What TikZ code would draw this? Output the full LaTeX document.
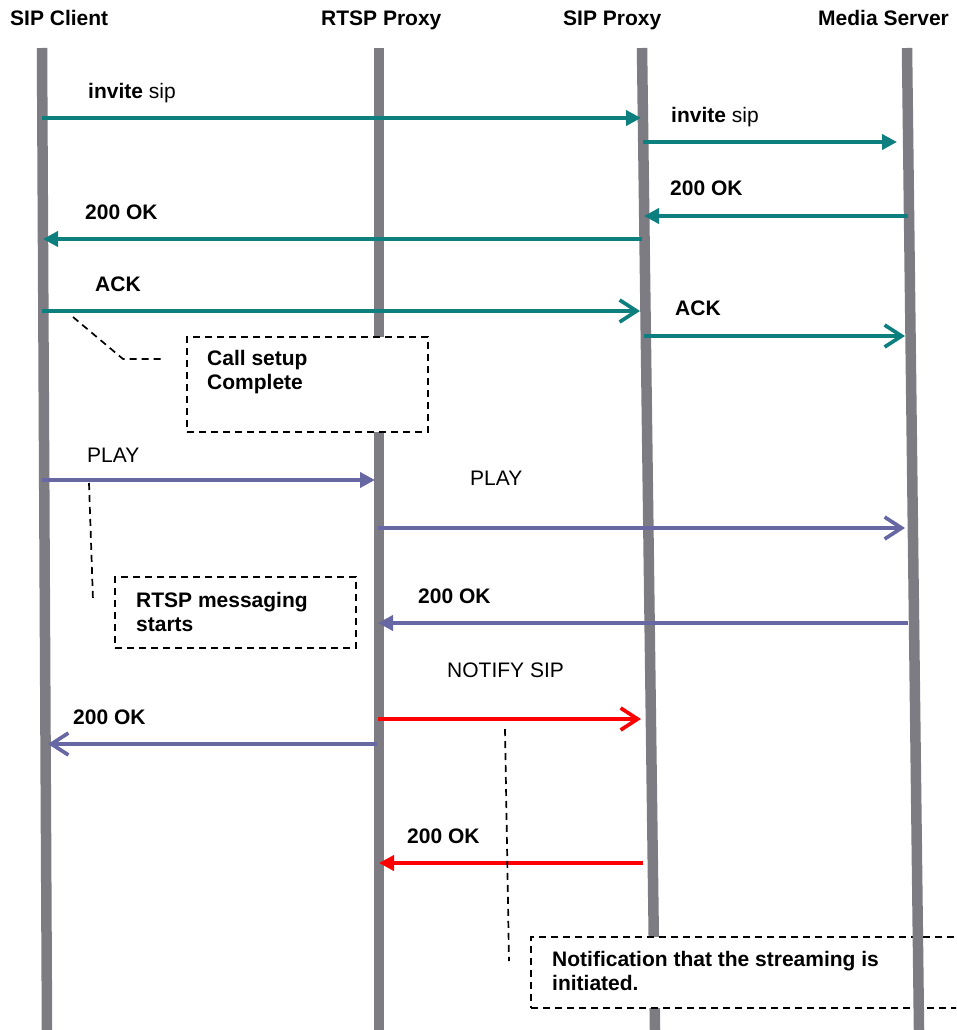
\documentclass[tikz,border=0pt]{standalone}
\usepackage{fontspec}
\setmainfont{Liberation Sans}
\definecolor{lineGray}{HTML}{7C7C82}
\definecolor{sipTeal}{HTML}{0E7F7F}
\definecolor{rtspPurple}{HTML}{6767A3}
\definecolor{notifyRed}{HTML}{FF0000}
\usetikzlibrary{arrows.meta,calc}

\begin{document}
\begin{tikzpicture}[x=1pt, y=-1pt, font=\fontsize{21}{24.5}\selectfont,
  lifeline/.style={draw=lineGray, line width=10.5pt},
  msg/.style={line width=3.7pt},
  sipmsg/.style={msg, draw=sipTeal},
  rtspmsg/.style={msg, draw=rtspPurple},
  notifymsg/.style={msg, draw=notifyRed},
  solidtip/.style={-{Triangle[length=15pt, width=15pt]}},
  opentip/.style={-{Straight Barb[length=17pt, width=22pt]}},
  lbl/.style={anchor=base west, inner sep=0pt},
  hdr/.style={lbl, font=\fontsize{21}{24.5}\selectfont\bfseries},
  notebox/.style={draw, dash pattern=on 7pt off 5pt, line width=1.7pt, fill=white, anchor=north west},
  notetext/.style={anchor=north west, align=left, inner sep=0pt, font=\fontsize{21}{24.5}\selectfont\bfseries},
  leader/.style={draw, dash pattern=on 7pt off 5pt, line width=1.7pt}]
\useasboundingbox (0,0) rectangle (956,1030);
\clip (0,0) rectangle (956,1030);

% participants
\node[hdr] (client) at (10,26) {SIP Client};
\node[hdr] (rtsp) at (321,26) {RTSP Proxy};
\node[hdr] (sipp) at (563,26) {SIP Proxy};
\node[hdr] (media) at (818,26) {Media Server};

\coordinate (clientT) at (42,48); \coordinate (clientB) at (47,1030);
\coordinate (rtspT) at (379,48); \coordinate (rtspB) at (379,1030);
\coordinate (sippT) at (642,48); \coordinate (sippB) at (655,1030);
\coordinate (mediaT) at (907,48); \coordinate (mediaB) at (919,1030);
\draw[lifeline] (clientT) -- (clientB);
\draw[lifeline] (rtspT) -- (rtspB);
\draw[lifeline] (sippT) -- (sippB);

% notes
\node[notebox, minimum width=241pt, minimum height=95pt] (setupBox) at (186,336) {};
\node[notetext] (setupTxt) at (207,350) {Call setup\\Complete};
\node[notebox, minimum width=241pt, minimum height=71pt] (rtspBox) at (114,576) {};
\node[notetext] (rtspTxt) at (136,592) {RTSP messaging\\starts};
\node[notebox, minimum width=440pt, minimum height=71pt] (ntfBox) at (530,936) {};
\node[notetext] (ntfTxt) at (552,951) {Notification that the streaming is\\initiated.};

\draw[lifeline] (mediaT) -- (mediaB);

% SIP call setup
\coordinate (inv1a) at (42,118); \coordinate (inv1b) at (641,118);
\draw[sipmsg, solidtip] (inv1a) -- (inv1b);
\node[lbl] (inv1l) at (88,99) {\textbf{invite} sip};
\coordinate (inv2a) at (643,142); \coordinate (inv2b) at (897,142);
\draw[sipmsg, solidtip] (inv2a) -- (inv2b);
\node[lbl] (inv2l) at (671,122) {\textbf{invite} sip};
\coordinate (ok1a) at (908,216); \coordinate (ok1b) at (644,216);
\draw[sipmsg, solidtip] (ok1a) -- (ok1b);
\node[lbl] (ok1l) at (670,195) {\textbf{200 OK}};
\coordinate (ok2a) at (642,239); \coordinate (ok2b) at (43,239);
\draw[sipmsg, solidtip] (ok2a) -- (ok2b);
\node[lbl] (ok2l) at (85,219) {\textbf{200 OK}};
\coordinate (ack1a) at (42,311); \coordinate (ack1b) at (640,311);
\draw[sipmsg, opentip] (ack1a) -- (ack1b);
\node[lbl] (ack1l) at (95,291) {\textbf{ACK}};
\coordinate (ack2a) at (644,336); \coordinate (ack2b) at (905,336);
\draw[sipmsg, opentip] (ack2a) -- (ack2b);
\node[lbl] (ack2l) at (675,315) {\textbf{ACK}};

% RTSP streaming
\coordinate (play1a) at (42,480); \coordinate (play1b) at (375,480);
\draw[rtspmsg, solidtip] (play1a) -- (play1b);
\node[lbl] (play1l) at (87,462) {PLAY};
\coordinate (play2a) at (378,528); \coordinate (play2b) at (905,528);
\draw[rtspmsg, opentip] (play2a) -- (play2b);
\node[lbl] (play2l) at (470,485) {PLAY};
\coordinate (ok3a) at (908,623); \coordinate (ok3b) at (378,623);
\draw[rtspmsg, solidtip] (ok3a) -- (ok3b);
\node[lbl] (ok3l) at (418,603) {\textbf{200 OK}};
\coordinate (ntfa) at (378,719); \coordinate (ntfb) at (641,719);
\draw[notifymsg, opentip] (ntfa) -- (ntfb);
\node[lbl] (ntfl) at (447,677) {NOTIFY SIP};
\coordinate (ok4a) at (377,744); \coordinate (ok4b) at (48,744);
\draw[rtspmsg, opentip] (ok4a) -- (ok4b);
\node[lbl] (ok4l) at (73,724) {\textbf{200 OK}};
\coordinate (ok5a) at (643,863); \coordinate (ok5b) at (379,863);
\draw[notifymsg, solidtip] (ok5a) -- (ok5b);
\node[lbl] (ok5l) at (407,843) {\textbf{200 OK}};

% leaders to notes
\coordinate (ackTap) at (73,317); \coordinate (setupLead) at (165,359);
\draw[leader] (ackTap) -- ++(50,42) -- (setupLead);
\coordinate (playTap) at (89,483); \coordinate (rtspLead) at (93,600);
\draw[leader] (playTap) -- (rtspLead);
\coordinate (ntfTap) at (505,729); \coordinate (ntfLead) at (509,961);
\draw[leader] (ntfTap) -- (ntfLead);
\end{tikzpicture}
\end{document}
